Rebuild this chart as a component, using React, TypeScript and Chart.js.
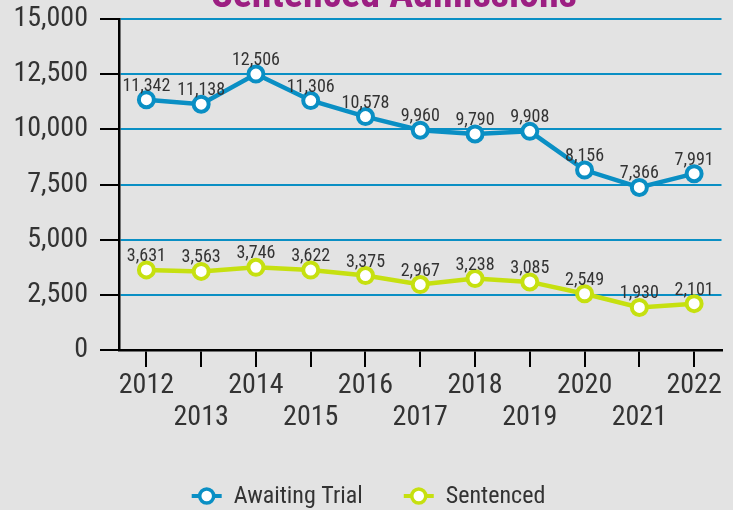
import React, { useEffect, useRef } from 'react';
import { Chart, registerables } from 'chart.js';

Chart.register(...registerables);

const years = ['2012', '2013', '2014', '2015', '2016', '2017', '2018', '2019', '2020', '2021', '2022'];
const awaitingTrial = [11342, 11138, 12506, 11306, 10578, 9960, 9790, 9908, 8156, 7366, 7991];
const sentenced = [3631, 3563, 3746, 3622, 3375, 2967, 3238, 3085, 2549, 1930, 2101];
const seriesNames = ['Awaiting Trial', 'Sentenced'];
const titleText = 'Sentenced Admissions';
const yMin = 0;
const yMax = 15000;
const yStep = 2500;

const FONT = "Roboto, 'DejaVu Sans', sans-serif";
const STRETCH = 'condensed';
const BLUE = '#0a8fc4';
const LIME = '#c6e010';
const BG = '#e3e3e3';
const TEXT = '#333333';
const TITLE = '#9c1f82';

const fmt = (v: number) => Number(v).toLocaleString('en-US');

const bgPlugin = {
  id: 'bgFill',
  beforeDraw(chart: any) {
    const { ctx, width, height } = chart;
    ctx.save();
    ctx.fillStyle = BG;
    ctx.fillRect(0, 0, width, height);
    ctx.restore();
  },
};

const labelPlugin = {
  id: 'valueLabels',
  afterDatasetsDraw(chart: any) {
    const { ctx } = chart;
    ctx.save();
    ctx.font = `${STRETCH} 18px ${FONT}`;
    ctx.fillStyle = TEXT;
    ctx.textAlign = 'center';
    ctx.textBaseline = 'alphabetic';
    chart.data.datasets.forEach((ds: any, di: number) => {
      const meta = chart.getDatasetMeta(di);
      meta.data.forEach((el: any, i: number) => {
        ctx.fillText(fmt(ds.data[i]), el.x, el.y - 9);
      });
    });
    ctx.restore();
  },
};

const titleLegendPlugin = {
  id: 'titleLegend',
  afterDraw(chart: any) {
    const { ctx, width } = chart;
    ctx.save();
    // title (cut off at top)
    ctx.font = `bold ${STRETCH} 40px ${FONT}`;
    ctx.fillStyle = TITLE;
    ctx.textAlign = 'center';
    ctx.textBaseline = 'alphabetic';
    ctx.fillText(titleText, 394, 7);

    // legend
    ctx.font = `${STRETCH} 24px ${FONT}`;
    const lineW = 30;
    const gapText = 12;
    const gapItems = 41;
    const colors = [BLUE, LIME];
    const widths = seriesNames.map((n) => lineW + gapText + ctx.measureText(n).width);
    const total = widths.reduce((a, b) => a + b, 0) + gapItems * (widths.length - 1);
    let x = width / 2 - total / 2 + 2;
    const y = 496;
    seriesNames.forEach((name, i) => {
      ctx.strokeStyle = colors[i];
      ctx.lineWidth = 4;
      ctx.beginPath();
      ctx.moveTo(x, y);
      ctx.lineTo(x + lineW, y);
      ctx.stroke();
      ctx.beginPath();
      ctx.arc(x + lineW / 2, y, 7, 0, Math.PI * 2);
      ctx.fillStyle = '#ffffff';
      ctx.fill();
      ctx.lineWidth = 3.5;
      ctx.stroke();
      ctx.fillStyle = TEXT;
      ctx.textAlign = 'left';
      ctx.textBaseline = 'middle';
      ctx.fillText(name, x + lineW + gapText, y + 1);
      x += widths[i] + gapItems;
    });
    ctx.restore();
  },
};

export default function App() {
  const ref = useRef<HTMLCanvasElement | null>(null);

  useEffect(() => {
    document.body.style.margin = '0';
    document.body.style.background = BG;
    if (!ref.current) return;
    const chart = new Chart(ref.current, {
      type: 'line',
      data: {
        labels: years,
        datasets: [
          {
            label: seriesNames[0],
            data: awaitingTrial,
            borderColor: BLUE,
            backgroundColor: '#ffffff',
            borderWidth: 4.5,
            pointRadius: 7.5,
            pointBorderWidth: 4,
            pointBackgroundColor: '#ffffff',
            pointBorderColor: BLUE,
            tension: 0,
          },
          {
            label: seriesNames[1],
            data: sentenced,
            borderColor: LIME,
            backgroundColor: '#ffffff',
            borderWidth: 4.5,
            pointRadius: 7.5,
            pointBorderWidth: 4,
            pointBackgroundColor: '#ffffff',
            pointBorderColor: LIME,
            tension: 0,
          },
        ],
      },
      options: {
        animation: false,
        responsive: false,
        maintainAspectRatio: false,
        layout: { padding: { top: 19, right: 11, bottom: 0, left: 0 } },
        plugins: {
          legend: { display: false },
          title: { display: false },
          tooltip: { enabled: false },
        },
        scales: {
          x: {
            offset: true,
            afterFit: (s: any) => {
              s.height = 160;
              s.paddingLeft = 0;
              s.paddingRight = 0;
            },
            grid: {
              offset: false,
              drawOnChartArea: false,
              drawTicks: true,
              tickLength: 17,
              tickColor: '#000000',
              tickWidth: 2,
              lineWidth: 2,
              color: '#000000',
            },
            border: { display: true, color: '#000000', width: 2.5 },
            ticks: {
              autoSkip: false,
              maxRotation: 0,
              minRotation: 0,
              padding: 3,
              color: TEXT,
              font: { family: FONT, size: 28, weight: STRETCH, lineHeight: 1.15 },
              callback: (_v: any, i: number) => (i % 2 === 0 ? years[i] : ['', years[i]]),
            },
          },
          y: {
            min: yMin,
            max: yMax,
            afterFit: (s: any) => {
              s.width = 119;
              s.paddingTop = 0;
              s.paddingBottom = 0;
            },
            grid: {
              color: (c: any) => (c.tick && c.tick.value === 0 ? '#000000' : BLUE),
              lineWidth: 2,
              tickLength: 19,
              tickColor: '#000000',
              tickWidth: 2,
            },
            border: { display: true, color: '#000000', width: 2.5 },
            ticks: {
              stepSize: yStep,
              padding: 12,
              color: TEXT,
              font: { family: FONT, size: 28, weight: STRETCH, lineHeight: 1.15 },
              callback: (v: any) => fmt(v),
            },
          },
        },
      },
      plugins: [bgPlugin, labelPlugin, titleLegendPlugin],
    } as any);
    return () => chart.destroy();
  }, []);

  return (
    <div style={{ width: 733, height: 510 }}>
      <canvas ref={ref} width={733} height={510} style={{ display: 'block', width: 733, height: 510 }} />
    </div>
  );
}
